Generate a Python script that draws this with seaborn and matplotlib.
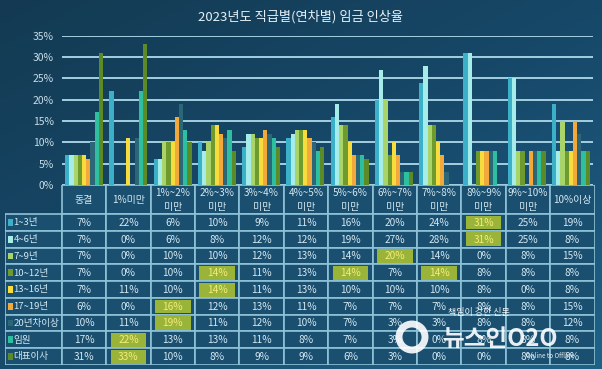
import matplotlib
matplotlib.use("Agg")
import matplotlib.pyplot as plt
import numpy as np
import pandas as pd
import seaborn as sns
from matplotlib.colors import LinearSegmentedColormap
from matplotlib.patches import Ellipse, Rectangle

# --- data ---
categories = ["동결", "1%미만", "1%~2% 미만", "2%~3% 미만", "3%~4% 미만", "4%~5% 미만",
              "5%~6% 미만", "6%~7% 미만", "7%~8% 미만", "8%~9% 미만", "9%~10% 미만", "10%이상"]
header_labels = ["동결", "1%미만", "1%~2%\n미만", "2%~3%\n미만", "3%~4%\n미만", "4%~5%\n미만",
                 "5%~6%\n미만", "6%~7%\n미만", "7%~8%\n미만", "8%~9%\n미만", "9%~10%\n미만", "10%이상"]
series_names = ["1~3년", "4~6년", "7~9년", "10~12년", "13~16년", "17~19년", "20년차이상", "임원", "대표이사"]

yr_1_3 = [7, 22, 6, 10, 9, 11, 16, 20, 24, 31, 25, 19]
yr_4_6 = [7, 0, 6, 8, 12, 12, 19, 27, 28, 31, 25, 8]
yr_7_9 = [7, 0, 10, 10, 12, 13, 14, 20, 14, 0, 8, 15]
yr_10_12 = [7, 0, 10, 14, 11, 13, 14, 7, 14, 8, 8, 8]
yr_13_16 = [7, 11, 10, 14, 11, 13, 10, 10, 10, 8, 0, 8]
yr_17_19 = [6, 0, 16, 12, 13, 11, 7, 7, 7, 8, 8, 15]
yr_20_plus = [10, 11, 19, 11, 12, 10, 7, 3, 3, 8, 8, 12]
executive = [17, 22, 13, 13, 11, 8, 7, 3, 0, 8, 8, 8]
ceo = [31, 33, 10, 8, 9, 9, 6, 3, 0, 0, 8, 8]

series_values = [yr_1_3, yr_4_6, yr_7_9, yr_10_12, yr_13_16, yr_17_19, yr_20_plus, executive, ceo]
series_colors = ["#3db0c9", "#a6ece8", "#a8d46a", "#6e9a2e", "#f7dc3d",
                 "#f2a83a", "#2b6777", "#2dbf9f", "#5c8a27"]

rows = []
for name, vals in zip(series_names, series_values):
    for cat, v in zip(categories, vals):
        rows.append({"구간": cat, "직급": name, "비율": v})
df = pd.DataFrame(rows)

sns.set_theme(style="dark")
plt.rcParams["font.family"] = ["Noto Sans CJK KR", "DejaVu Sans"]

TXT = "#d3e8f1"
LINE = "#8fc3d8"
CELL = "#1a4f70"
HILITE = "#9ab43a"
W, H = 602, 369

fig = plt.figure(figsize=(W / 100, H / 100), dpi=100)

# background gradient
bg = fig.add_axes([0, 0, 1, 1])
gx, gy = np.meshgrid(np.linspace(0, 1, 200), np.linspace(0, 1, 200))
grad = 0.55 * gy + 0.45 * gx
cmap = LinearSegmentedColormap.from_list("bg", ["#133a52", "#17496a", "#1f6288"])
bg.imshow(grad, extent=[0, 1, 0, 1], origin="upper", aspect="auto", cmap=cmap)
bg.axis("off")

fig.text(0.5, 1 - 17 / H, "2023년도 직급별(연차별) 임금 인상율", ha="center", va="center",
         fontsize=9.5, color="#e6f2f7")

# bar chart
ax = fig.add_axes([62 / W, 1 - 185 / H, (593 - 62) / W, (185 - 35.7) / H])
sns.barplot(data=df, x="구간", y="비율", hue="직급", order=categories, hue_order=series_names,
            palette=series_colors, saturation=1, width=0.86, gap=0, legend=False,
            linewidth=0, edgecolor="none", ax=ax)
ax.set_ylim(0, 35)
ax.set_xlim(-0.5, 11.5)
ax.set_yticks(range(0, 36, 5))
ax.set_yticklabels([f"{t}%" for t in range(0, 36, 5)])
ax.set_xticks([])
ax.set_xlabel("")
ax.set_ylabel("")
ax.patch.set_alpha(0)
for s in ax.spines.values():
    s.set_visible(False)
ax.set_axisbelow(True)
ax.yaxis.grid(True, color="#a3cfe0", linewidth=1.4)
ax.xaxis.grid(False)
ax.tick_params(axis="y", length=0, pad=6, labelsize=7.5, labelcolor="#c9dde7")

# data table
hdr = (214 - 185) / ((365 - 214) / 9)
leg_w = (62 - 5) / 44.5
tax = fig.add_axes([5 / W, 1 - 365 / H, (594.6 - 5) / W, (365 - 185) / H])
tax.set_xlim(-leg_w, 12)
tax.set_ylim(9, -hdr)
tax.axis("off")

for c, lab in enumerate(header_labels):
    tax.add_patch(Rectangle((c, -hdr), 1, hdr, facecolor=CELL, edgecolor=LINE, lw=1.2))
    tax.text(c + 0.5, -hdr / 2, lab, ha="center", va="center", fontsize=7.2,
             color=TXT, linespacing=1.5)

for r, (name, vals, col) in enumerate(zip(series_names, series_values, series_colors)):
    tax.add_patch(Rectangle((-leg_w, r), leg_w, 1, facecolor=CELL, edgecolor=LINE, lw=1.2))
    tax.add_patch(Rectangle((-leg_w + 0.07, r + 0.3), 0.1, 0.4, facecolor=col, edgecolor="none"))
    tax.text(-leg_w + 0.19, r + 0.52, name, ha="left", va="center", fontsize=6.9, color=TXT)
    top = max(vals)
    for c, v in enumerate(vals):
        tax.add_patch(Rectangle((c, r), 1, 1, facecolor=CELL, edgecolor=LINE, lw=1.2))
        tc = TXT
        if v == top:
            tax.add_patch(Rectangle((c + 0.1, r + 0.1), 0.8, 0.82, facecolor=HILITE, edgecolor="none"))
            tc = "#f4ec7a"
        tax.text(c + 0.5, r + 0.52, f"{v}%", ha="center", va="center", fontsize=7.3, color=tc)

# watermark of the source paper (logo ring drawn as a shape)
fig.add_artist(Ellipse((412 / W, 1 - 337 / H), 26 / W, 26 / H, transform=fig.transFigure,
                       facecolor="none", edgecolor="white", lw=5, alpha=0.9))
fig.text(479 / W, 1 - 312 / H, "책임이 강한 신문", ha="center", va="center",
         fontsize=6.5, color="white", alpha=0.9)
fig.text(500 / W, 1 - 339 / H, "뉴스인O2O", ha="center", va="center",
         fontsize=17, fontweight="bold", color="white", alpha=0.9)
fig.text(550 / W, 1 - 356 / H, "Online to Offline", ha="center", va="center",
         fontsize=4.5, color="white", alpha=0.9)

fig.savefig("out.png", dpi=100)
